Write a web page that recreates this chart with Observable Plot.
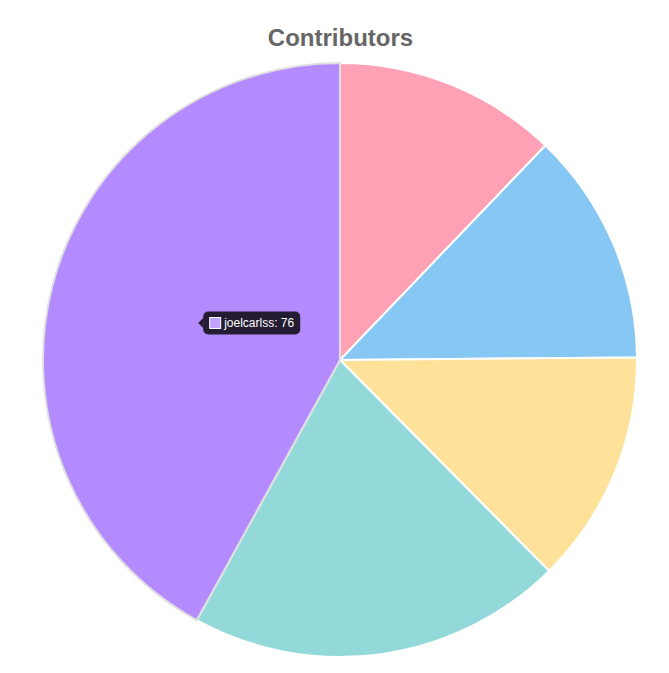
<!DOCTYPE html>
<html>
<head>
<meta charset="utf-8">
<script src="https://cdn.jsdelivr.net/npm/d3@7"></script>
<script src="https://cdn.jsdelivr.net/npm/@observablehq/plot@0.6"></script>
<style>
  html, body { margin: 0; padding: 0; background: #fff; }
</style>
</head>
<body>
<div id="chart"></div>
<script>
// ---- data ----
const contributors = ["contributor-1", "contributor-2", "contributor-3", "contributor-4", "joelcarlss"];
const commits = [22, 23, 23, 37, 76];
const activeContributor = "joelcarlss";
const titleText = "Contributors";

// ---- styles ----
const sliceColors = ["#FFA1B5", "#86C7F3", "#FFE29A", "#93D9D9", "#C2A3FF"];
const hoverColors = ["#FF8FA8", "#6FBCF0", "#FFD97F", "#7ED0D0", "#B38BFF"];
const FONT = "'Helvetica Neue', Helvetica, Arial, 'Liberation Sans', sans-serif";

const data = contributors.map((name, i) => ({name, value: commits[i], i}));

function pieMark(index, scales) {
  const cx = scales.x(0), cy = scales.y(0);
  const R = scales.x(1) - cx;
  const arcs = d3.pie().sort(null).value(d => d.value)(data);
  const arc = d3.arc().innerRadius(0).outerRadius(R);
  const ordered = arcs.filter(a => a.data.name !== activeContributor)
    .concat(arcs.filter(a => a.data.name === activeContributor));
  const g = d3.create("svg:g").attr("transform", `translate(${cx},${cy})`);
  g.selectAll("path").data(ordered).join("path")
    .attr("d", arc)
    .attr("fill", a => a.data.name === activeContributor ? hoverColors[a.data.i] : sliceColors[a.data.i])
    .attr("stroke", a => a.data.name === activeContributor ? "#e0e0e0" : "#fff")
    .attr("stroke-width", 2)
    .attr("stroke-linejoin", "round");

  // tooltip for the active slice
  const act = arcs.find(a => a.data.name === activeContributor);
  const [tx, ty] = arc.centroid(act);
  const label = `${act.data.name}: ${act.data.value}`;
  const ctx = document.createElement("canvas").getContext("2d");
  ctx.font = `12px ${FONT}`;
  const tw = ctx.measureText(label).width;
  const pad = 6, box = 12, gap = 3, caret = 5;
  const tipX = tx + 2;
  const x0 = tipX + caret;
  const w = pad + box + gap + tw + pad;
  const h = 23;
  const y0 = ty - h / 2;
  const t = g.append("g").attr("text-anchor", "start");
  t.append("path")
    .attr("d", `M${tipX},${ty} L${x0},${ty - caret} L${x0},${ty + caret} Z`)
    .attr("fill", "rgba(0,0,0,0.8)");
  t.append("rect")
    .attr("x", x0).attr("y", y0).attr("width", w).attr("height", h)
    .attr("rx", 5).attr("fill", "rgba(0,0,0,0.8)");
  t.append("rect")
    .attr("x", x0 + pad + 0.5).attr("y", ty - box / 2 + 0.5).attr("width", box - 1).attr("height", box - 1)
    .attr("fill", sliceColors[act.data.i]).attr("stroke", "#fff").attr("stroke-width", 1);
  t.append("text")
    .attr("x", x0 + pad + box + gap).attr("y", ty)
    .attr("dy", "0.36em")
    .attr("text-anchor", "start")
    .attr("fill", "#fff")
    .attr("font-family", FONT)
    .attr("font-size", 12)
    .text(label);
  return g.node();
}

const chart = Plot.plot({
  width: 669,
  height: 673,
  margin: 0,
  x: {domain: [-1, 1], range: [43, 637], axis: null},
  y: {domain: [-1, 1], range: [657, 63], axis: null},
  style: {background: "#fff", fontFamily: FONT},
  marks: [
    pieMark,
    Plot.text([titleText], {
      x: () => 0,
      frameAnchor: "top",
      dy: 45,
      lineAnchor: "bottom",
      text: d => d,
      fontSize: 24,
      fontWeight: "bold",
      fill: "#666",
      fontFamily: FONT
    })
  ]
});
document.getElementById("chart").appendChild(chart);
</script>
</body>
</html>
